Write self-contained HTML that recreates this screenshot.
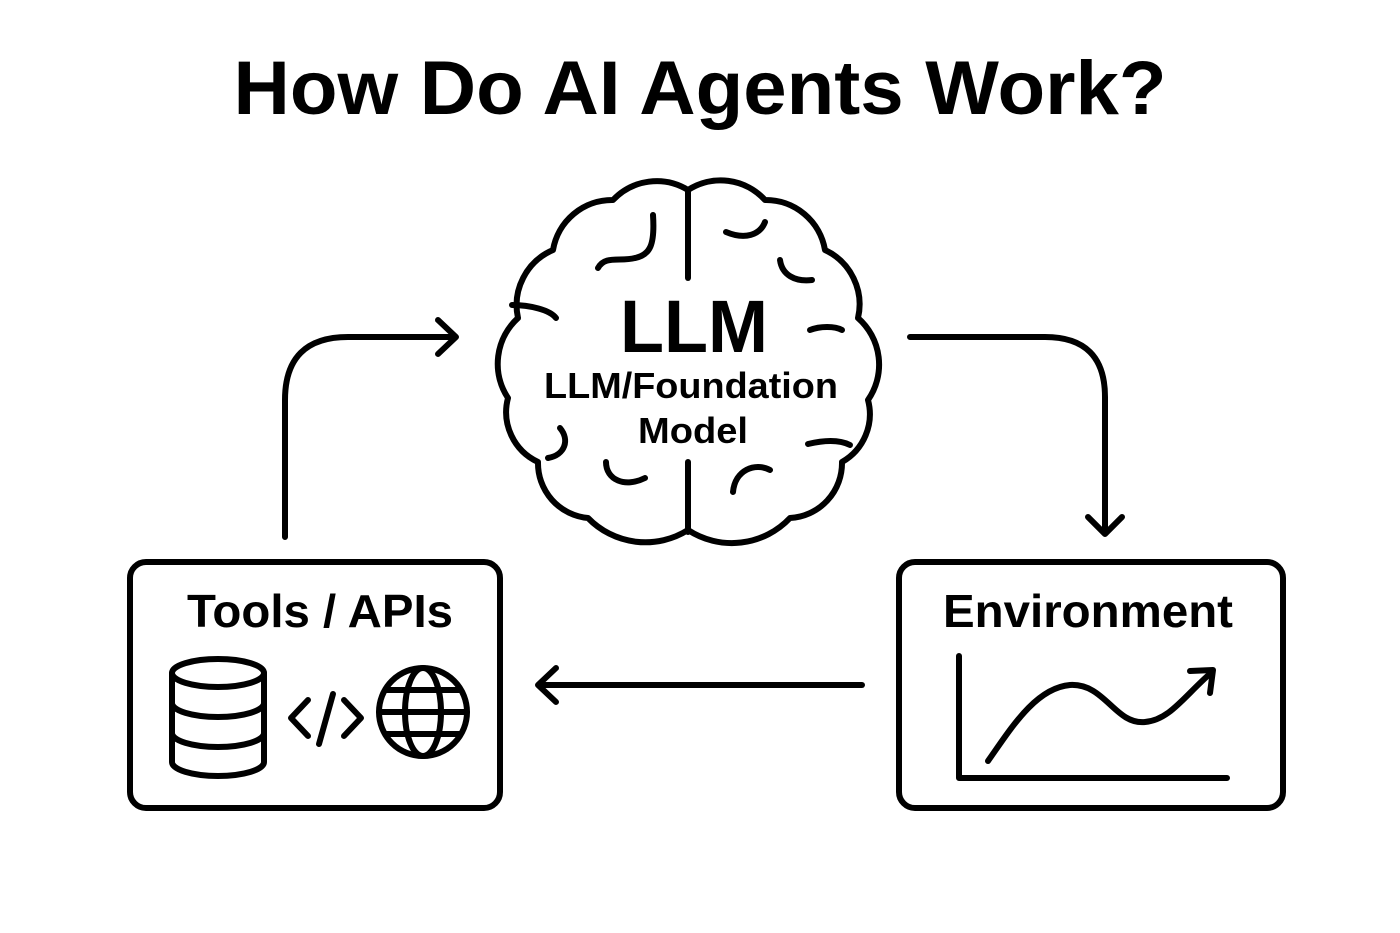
<!DOCTYPE html>
<html><head><meta charset="utf-8"><style>html,body{margin:0;padding:0;background:#fff}svg{display:block}</style></head>
<body>
<svg width="1400" height="933" viewBox="0 0 1400 933" xmlns="http://www.w3.org/2000/svg" font-family="Liberation Sans, sans-serif">
<rect width="1400" height="933" fill="#fff"/>
<text x="700" y="114" text-anchor="middle" font-size="76" font-weight="bold" textLength="933" lengthAdjust="spacingAndGlyphs">How Do AI Agents Work?</text>
<g fill="none" stroke="#000" stroke-width="6" stroke-linecap="round" stroke-linejoin="round">
<path d="M688,190 A60,60 0 0 1 765,200 A60,60 0 0 1 825,250 A60,60 0 0 1 858,318 A62,62 0 0 1 868,400 A55,55 0 0 1 842,462 A55,55 0 0 1 790,518 A80,80 0 0 1 688,530 A80,80 0 0 1 588,518 A55,55 0 0 1 538,462 A55,55 0 0 1 508,398 A62,62 0 0 1 518,318 A60,60 0 0 1 553,250 A60,60 0 0 1 613,200 A60,60 0 0 1 688,190 Z"/>
<path d="M688,190 L688,278"/>
<path d="M688,462 L688,532"/>
<path d="M653,215 C655,245 650,255 635,258 C620,262 605,255 598,268"/>
<path d="M726,232 C745,240 760,235 765,222"/>
<path d="M780,260 C782,275 795,282 812,280"/>
<path d="M512,305 C530,305 550,310 556,318"/>
<path d="M810,330 C820,326 835,326 842,330"/>
<path d="M808,444 C825,440 840,440 850,445"/>
<path d="M560,428 C570,440 565,455 548,458"/>
<path d="M606,462 C606,480 625,488 645,478"/>
<path d="M733,492 C735,470 755,462 770,470"/>
<path d="M285,537 L285,400 Q285,337 348,337 L455,337"/>
<path d="M438,320 L456,337 L438,354"/>
<path d="M910,337 L1045,337 Q1105,337 1105,397 L1105,532"/>
<path d="M1088,517 L1105,534 L1122,517"/>
<path d="M862,685 L540,685"/>
<path d="M556,668 L538,685 L556,702"/>
<rect x="130" y="562" width="370" height="246" rx="16"/>
<rect x="899" y="562" width="384" height="246" rx="16"/>
<ellipse cx="218" cy="673" rx="46" ry="14"/>
<path d="M172,673 L172,762 A46,14 0 0 0 264,762 L264,673"/>
<path d="M172,703 A46,14 0 0 0 264,703"/>
<path d="M172,733 A46,14 0 0 0 264,733"/>
<path d="M308,700 L291,718 L308,736"/>
<path d="M344,700 L361,718 L344,736"/>
<path d="M333,694 L319,744"/>
<circle cx="423" cy="712" r="44"/>
<ellipse cx="423" cy="712" rx="18" ry="44"/>
<path d="M379,712 L467,712 M386,690 L460,690 M386,734 L460,734"/>
<path d="M959,656 L959,778 L1227,778"/>
<path d="M988,761 C1010,730 1035,688 1070,685 C1105,683 1115,725 1145,722 C1170,720 1185,695 1212,672"/>
<path d="M1190,671 L1213,670 L1210,693"/>
</g>
<text x="694" y="352" text-anchor="middle" font-size="74" font-weight="bold" textLength="148" lengthAdjust="spacingAndGlyphs">LLM</text>
<text x="691" y="398" text-anchor="middle" font-size="36" font-weight="bold" textLength="294" lengthAdjust="spacingAndGlyphs">LLM/Foundation</text>
<text x="693" y="443" text-anchor="middle" font-size="36" font-weight="bold" textLength="110" lengthAdjust="spacingAndGlyphs">Model</text>
<text x="320" y="627" text-anchor="middle" font-size="46" font-weight="bold" textLength="266" lengthAdjust="spacingAndGlyphs">Tools / APIs</text>
<text x="1088" y="627" text-anchor="middle" font-size="46" font-weight="bold" textLength="290" lengthAdjust="spacingAndGlyphs">Environment</text>
</svg>
</body></html>
